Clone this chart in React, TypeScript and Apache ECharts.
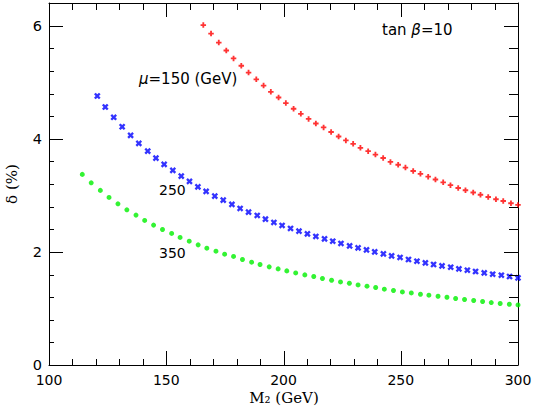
import React, { useEffect, useRef } from "react";
import * as echarts from "echarts";

// mu = 150 GeV (red plus)
const redX = [165.8, 169.1, 172.4, 175.6, 178.7, 182.0, 185.1, 188.4, 191.5, 194.6, 197.9, 201.0, 204.3, 207.4, 210.7, 213.8, 217.1, 220.3, 223.5, 226.6, 229.7, 232.8, 236.1, 239.2, 242.5, 245.6, 248.9, 252.0, 255.3, 258.4, 261.7, 264.8, 268.1, 271.2, 274.5, 277.6, 280.9, 284.0, 287.3, 290.6, 293.7, 297.0, 300.0];
const redY = [6.01, 5.86, 5.70, 5.56, 5.42, 5.29, 5.17, 5.05, 4.94, 4.83, 4.73, 4.63, 4.53, 4.44, 4.35, 4.27, 4.20, 4.12, 4.04, 3.97, 3.91, 3.84, 3.78, 3.72, 3.66, 3.59, 3.54, 3.49, 3.43, 3.38, 3.33, 3.28, 3.23, 3.18, 3.13, 3.09, 3.05, 3.01, 2.97, 2.93, 2.90, 2.86, 2.83];

// mu = 250 GeV (blue cross)
const blueX = [120.6, 124.0, 127.6, 131.2, 134.8, 138.3, 142.1, 145.6, 149.1, 152.8, 156.4, 159.9, 163.5, 167.0, 170.7, 174.3, 178.0, 181.5, 185.1, 188.8, 192.3, 195.9, 199.4, 203.0, 206.6, 210.2, 213.8, 217.5, 221.0, 224.5, 228.2, 231.8, 235.4, 238.9, 242.6, 246.1, 249.7, 253.3, 256.9, 260.5, 264.0, 267.6, 271.3, 274.8, 278.4, 281.9, 285.6, 289.2, 292.9, 296.4, 300.0];
const blueY = [4.756, 4.561, 4.379, 4.212, 4.060, 3.919, 3.782, 3.658, 3.547, 3.441, 3.340, 3.246, 3.150, 3.069, 2.986, 2.915, 2.839, 2.768, 2.703, 2.644, 2.579, 2.520, 2.467, 2.414, 2.366, 2.319, 2.273, 2.230, 2.189, 2.149, 2.106, 2.071, 2.035, 2.000, 1.965, 1.929, 1.901, 1.865, 1.835, 1.805, 1.777, 1.752, 1.729, 1.699, 1.676, 1.653, 1.628, 1.605, 1.588, 1.565, 1.540];

// mu = 350 GeV (green dot)
const greenX = [114.2, 118.0, 121.9, 125.6, 129.4, 133.2, 137.1, 140.8, 144.6, 148.4, 152.3, 155.9, 159.8, 163.6, 167.3, 171.2, 174.9, 178.7, 182.5, 186.4, 190.0, 193.9, 197.7, 201.4, 205.2, 209.1, 212.9, 216.6, 220.5, 224.3, 228.1, 231.8, 235.6, 239.3, 243.0, 246.9, 250.7, 254.5, 258.4, 262.0, 265.9, 269.7, 273.4, 277.2, 281.1, 284.9, 288.6, 292.4, 296.3, 300.0];
const greenY = [3.370, 3.221, 3.087, 2.963, 2.850, 2.743, 2.650, 2.556, 2.473, 2.396, 2.326, 2.255, 2.189, 2.124, 2.065, 2.012, 1.959, 1.919, 1.865, 1.818, 1.777, 1.735, 1.699, 1.664, 1.628, 1.593, 1.565, 1.529, 1.499, 1.469, 1.446, 1.416, 1.393, 1.370, 1.340, 1.317, 1.292, 1.274, 1.251, 1.234, 1.216, 1.198, 1.175, 1.158, 1.140, 1.122, 1.104, 1.087, 1.074, 1.062];

// tick positions (axis values)
const xMajorTicks = [100, 150, 200, 250, 300];
const xMinorTicks = [110, 120, 130, 140, 160, 170, 180, 190, 210, 220, 230, 240, 260, 270, 280, 290];
const yMajorTicks = [0, 2, 4, 6];
const yMinorTicks = [0.4, 0.8, 1.2, 1.6, 2.4, 2.8, 3.2, 3.6, 4.4, 4.8, 5.2, 5.6, 6.4];

const xMin = 100;
const xMax = 300;
const xInterval = 50;
const yMin = 0;
const yMax = 6.4;
const yInterval = 2;

const PLUS = "path://M2,0H4V2H6V4H4V6H2V4H0V2H2Z";
const SANS = "DejaVu Sans";
const SERIF = "DejaVu Serif";

// kind: 0 x-major, 1 x-minor, 2 y-major, 3 y-minor
const tickData = [
  ...xMajorTicks.map((v) => [0, v]),
  ...xMinorTicks.map((v) => [1, v]),
  ...yMajorTicks.map((v) => [2, v]),
  ...yMinorTicks.map((v) => [3, v]),
];

function renderTick(params: any, api: any) {
  const kind = api.value(0);
  const v = api.value(1);
  const style = { stroke: "#000", lineWidth: 1 };
  const crisp = (n: number) => Math.round(n) + 0.5;
  if (kind <= 1) {
    const b = api.coord([v, yMin]);
    const t = api.coord([v, yMax]);
    const x = crisp(b[0]);
    const lb = kind === 0 ? 14 : 6;
    const lt = kind === 0 ? 14 : 7;
    return {
      type: "group",
      children: [
        { type: "line", shape: { x1: x, y1: b[1], x2: x, y2: b[1] - lb }, style },
        { type: "line", shape: { x1: x, y1: t[1], x2: x, y2: t[1] + lt }, style },
      ],
    };
  }
  const l = api.coord([xMin, v]);
  const r = api.coord([xMax, v]);
  const y = crisp(l[1]);
  const ll = kind === 2 ? 14 : 5;
  const lr = kind === 2 ? 14 : 9;
  return {
    type: "group",
    children: [
      { type: "line", shape: { x1: l[0], y1: y, x2: l[0] + ll, y2: y }, style },
      { type: "line", shape: { x1: r[0], y1: y, x2: r[0] - lr, y2: y }, style },
    ],
  };
}

function Chart() {
  const ref = useRef<HTMLDivElement>(null);
  useEffect(() => {
    if (!ref.current) return;
    const chart = echarts.init(ref.current, undefined, { renderer: "svg" });
    const axisLine = { show: true, onZero: false, lineStyle: { color: "#000", width: 1 } };
    chart.setOption({
      animation: false,
      backgroundColor: "#fff",
      grid: { left: 49, right: 18, top: 3, bottom: 50, outerBoundsMode: "none" },
      xAxis: [
        {
          type: "value",
          position: "bottom",
          min: xMin,
          max: xMax,
          interval: xInterval,
          splitLine: { show: false },
          axisLine,
          axisTick: { show: false },
          axisLabel: { color: "#000", fontSize: 14, fontFamily: SANS, margin: 8 },
        },
        {
          type: "value",
          position: "top",
          min: xMin,
          max: xMax,
          interval: xInterval,
          splitLine: { show: false },
          axisLine,
          axisTick: { show: false },
          axisLabel: { show: false },
        },
      ],
      yAxis: [
        {
          type: "value",
          position: "left",
          min: yMin,
          max: yMax,
          interval: yInterval,
          splitLine: { show: false },
          axisLine,
          axisTick: { show: false },
          axisLabel: { color: "#000", fontSize: 14.5, fontFamily: SANS, margin: 7, showMaxLabel: false },
        },
        {
          type: "value",
          position: "right",
          min: yMin,
          max: yMax,
          interval: yInterval,
          splitLine: { show: false },
          axisLine,
          axisTick: { show: false },
          axisLabel: { show: false },
        },
      ],
      series: [
        {
          type: "custom",
          xAxisIndex: 0,
          yAxisIndex: 0,
          silent: true,
          clip: false,
          data: tickData,
          renderItem: renderTick,
          z: 5,
        },
        {
          type: "scatter",
          xAxisIndex: 0,
          yAxisIndex: 0,
          data: redX.map((x, i) => [x, redY[i]]),
          symbol: PLUS,
          symbolSize: 5.5,
          itemStyle: { color: "#ff0000" },
        },
        {
          type: "scatter",
          xAxisIndex: 0,
          yAxisIndex: 0,
          data: blueX.map((x, i) => [x, blueY[i]]),
          symbol: PLUS,
          symbolSize: 7,
          symbolRotate: 45,
          itemStyle: { color: "#0000ff" },
        },
        {
          type: "scatter",
          xAxisIndex: 0,
          yAxisIndex: 0,
          data: greenX.map((x, i) => [x, greenY[i]]),
          symbol: "circle",
          symbolSize: 5,
          itemStyle: { color: "#00f000" },
        },
      ],
      graphic: [
        {
          type: "text",
          x: 382,
          y: 30,
          style: {
            text: "tan {i|β}=10",
            font: `15px "${SANS}"`,
            fill: "#000",
            verticalAlign: "middle",
            rich: { i: { fontStyle: "italic", fontSize: 15, fontFamily: SANS } },
          },
        },
        {
          type: "text",
          x: 139,
          y: 79,
          style: {
            text: "{i|μ}=150 (GeV)",
            font: `15px "${SANS}"`,
            fill: "#000",
            verticalAlign: "middle",
            rich: { i: { fontStyle: "italic", fontSize: 15, fontFamily: SANS } },
          },
        },
        {
          type: "text",
          x: 159,
          y: 190,
          style: { text: "250", font: `14px "${SANS}"`, fill: "#000", verticalAlign: "middle" },
        },
        {
          type: "text",
          x: 159,
          y: 253,
          style: { text: "350", font: `14px "${SANS}"`, fill: "#000", verticalAlign: "middle" },
        },
        {
          type: "text",
          x: 284,
          y: 398,
          style: { text: "M₂ (GeV)", font: `15px "${SERIF}"`, fill: "#000", align: "center", verticalAlign: "middle" },
        },
        {
          type: "text",
          x: 12,
          y: 184,
          rotation: Math.PI / 2,
          style: { text: "δ (%)", font: `15px "${SERIF}"`, fill: "#000", align: "center", verticalAlign: "middle" },
        },
      ],
    });
    return () => chart.dispose();
  }, []);
  return <div ref={ref} style={{ width: 536, height: 415 }} />;
}

export default function App() {
  useEffect(() => {
    document.body.style.margin = "0";
  }, []);
  return <Chart />;
}
